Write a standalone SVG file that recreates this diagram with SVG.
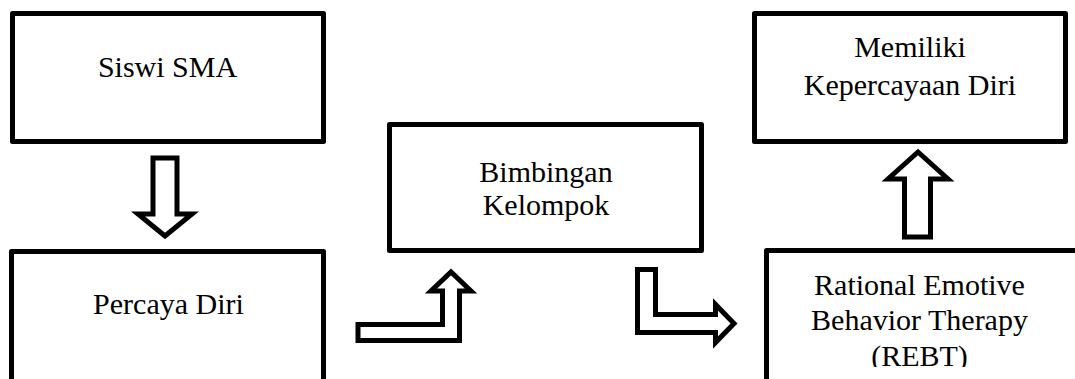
<svg xmlns="http://www.w3.org/2000/svg" width="1075" height="379" viewBox="0 0 1075 379">
  <style>
    .box { fill: #ffffff; stroke: #000000; stroke-width: 5; stroke-linejoin: round; }
    .arrow { fill: #ffffff; stroke: #000000; stroke-width: 5; stroke-linejoin: miter; stroke-miterlimit: 10; }
    .label { font-family: "Liberation Serif", "Times New Roman", serif; font-size: 30px; fill: #000000; text-anchor: middle; }
  </style>
  <defs>
    <clipPath id="rebt-clip">
      <rect x="760" y="240" width="320" height="127"/>
    </clipPath>
  </defs>
  <rect width="1075" height="379" fill="#ffffff"/>

  <g id="node-siswi-sma">
    <rect class="box" x="12.5" y="13.5" width="311" height="128"/>
    <text class="label" x="167.5" y="77">Siswi SMA</text>
  </g>

  <g id="node-percaya-diri">
    <rect class="box" x="11.5" y="251.5" width="312" height="160"/>
    <text class="label" x="168.5" y="314">Percaya Diri</text>
  </g>

  <g id="node-bimbingan-kelompok">
    <rect class="box" x="389.5" y="124.5" width="312" height="126"/>
    <text class="label" x="546" y="182">Bimbingan</text>
    <text class="label" x="546" y="215">Kelompok</text>
  </g>

  <g id="node-rebt">
    <rect class="box" x="766.5" y="250.5" width="400" height="200"/>
    <g clip-path="url(#rebt-clip)">
      <text class="label" x="919.5" y="295">Rational Emotive</text>
      <text class="label" x="919.5" y="330">Behavior Therapy</text>
      <text class="label" x="919.5" y="366">(REBT)</text>
    </g>
  </g>

  <g id="node-kepercayaan-diri">
    <rect class="box" x="754.5" y="13.5" width="311" height="128"/>
    <text class="label" x="910" y="57">Memiliki</text>
    <text class="label" x="910" y="95">Kepercayaan Diri</text>
  </g>

  <g id="connectors">
    <!-- block arrow down: Siswi SMA to Percaya Diri -->
    <polygon class="arrow" stroke-width="4.5" points="153,158 177,158 177,214 192,214 165,236 138,214 153,214"/>
    <!-- bent arrow up: Percaya Diri to Bimbingan Kelompok -->
    <polygon class="arrow" points="358,324.5 442.5,324.5 442.5,291 431,291 451,272 471,291 459.5,291 459.5,340.5 358,340.5"/>
    <!-- bent arrow right: Bimbingan Kelompok to REBT -->
    <polygon class="arrow" points="637.5,269.5 655.5,269.5 655.5,314.5 715.5,314.5 715.5,304.5 734,323.5 715.5,342.5 715.5,332.5 637.5,332.5"/>
    <!-- block arrow up: REBT to Memiliki Kepercayaan Diri -->
    <polygon class="arrow" points="918,152 948,179 930.5,179 930.5,237 904.5,237 904.5,179 888,179"/>
  </g>
</svg>
